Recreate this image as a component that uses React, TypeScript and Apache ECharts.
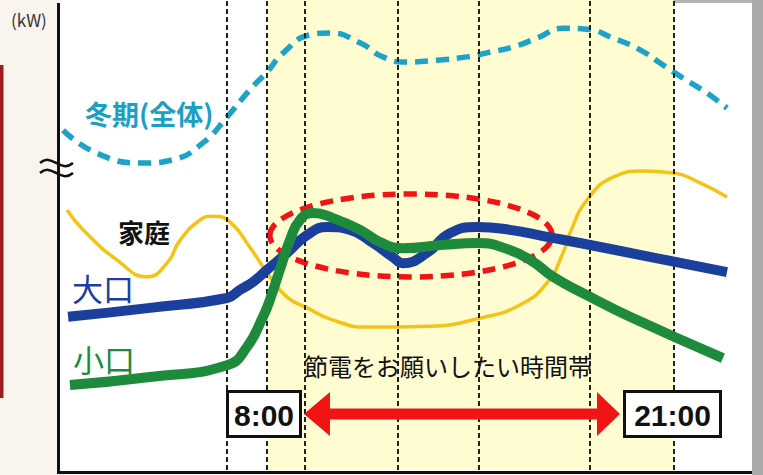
import React, { useEffect, useRef } from "react";
import * as echarts from "echarts";

// x: hour of day, y: relative load (arbitrary units, 0-100)
const winterTotal: [number, number][] = [
  [1.48, 72.3], [2.56, 67.4], [4.03, 65.3], [4.99, 66.0], [5.95, 69.6], [6.72, 75.1],
  [7.45, 80.9], [8.0, 84.7], [8.51, 88.7], [9.37, 92.6], [10.01, 93.0], [10.97, 90.9],
  [11.7, 87.9], [12.47, 86.8], [13.43, 87.2], [14.39, 87.9], [15.12, 88.9], [15.86, 90.0],
  [16.63, 91.9], [17.46, 94.0], [18.22, 93.8], [19.06, 91.9], [19.92, 89.4], [20.65, 86.2],
  [21.29, 83.4], [22.06, 80.2], [22.7, 77.0],
];
const household: [number, number][] = [
  [1.61, 55.3], [2.12, 51.1], [3.2, 44.7], [4.16, 41.1], [4.8, 44.0],
  [5.22, 48.9], [5.86, 53.2], [6.27, 54.0], [6.81, 52.8], [7.45, 47.4], [8.09, 41.1],
  [8.64, 36.8], [9.28, 34.5], [10.11, 31.9], [11.19, 30.4], [13.21, 30.6], [14.8, 32.3],
  [16.08, 35.1], [16.95, 39.8], [17.46, 46.2], [17.68, 50.4], [18.22, 57.4], [19.06, 62.3],
  [20.01, 63.6], [20.97, 63.2], [21.84, 61.1], [22.7, 58.1],
];
const largeUsers: [number, number][] = [
  [1.64, 32.6], [4.26, 34.5], [6.72, 36.6], [7.13, 38.3], [7.55, 40.0], [8.0, 42.6],
  [8.64, 46.2], [9.28, 50.0], [9.92, 51.7], [10.65, 51.1], [11.39, 48.3], [12.02, 45.3],
  [12.34, 44.0], [13.11, 46.2], [13.85, 50.4], [14.71, 51.7], [15.76, 51.1], [16.95, 49.6],
  [18.0, 48.3], [20.35, 45.2], [22.7, 42.1],
];
const smallUsers: [number, number][] = [
  [1.7, 18.1], [4.26, 19.8], [6.72, 22.3], [7.36, 26.2], [7.87, 32.6], [8.09, 36.2],
  [8.41, 42.6], [8.73, 48.9], [9.05, 53.2], [9.47, 54.7], [10.11, 53.6], [10.97, 51.1],
  [11.61, 48.5], [12.34, 47.2], [13.62, 47.9], [14.71, 48.3], [15.76, 46.8], [16.5, 44.3],
  [17.14, 41.1], [18.22, 37.2], [19.6, 32.6], [22.57, 23.8],
];
const dividerHours = [6.72, 8.0, 9.21, 12.18, 14.77, 18.32, 21.0];
const savingBand = [8, 21];
const bandLabels = ["8:00", "21:00"];
const focusCenter = [12.6, 49.9];
const focusRadius = [4.51, 8.83];

const FONT = "Noto Sans CJK JP";

export default function App() {
  const ref = useRef<HTMLDivElement>(null);
  useEffect(() => {
    const chart = echarts.init(ref.current as HTMLDivElement, null, {
      renderer: "svg",
      width: 763,
      height: 475,
    });
    const line = (name: string, data: [number, number][], color: string, width: number, z: number, dash?: number[]) => ({
      type: "line",
      name,
      data,
      smooth: 0.5,
      symbol: "none",
      silent: true,
      z,
      lineStyle: { color, width, type: dash ? dash : "solid", cap: "butt", join: "round" },
    });
    chart.setOption({
      animation: false,
      backgroundColor: "#faf4ee",
      textStyle: { fontFamily: FONT },
      grid: { left: 59, right: 11, top: 0, bottom: 5 },
      xAxis: { type: "value", min: 1.35, max: 23.5, show: false },
      yAxis: { type: "value", min: 0, max: 100, show: false },
      series: [
        {
          type: "line",
          data: [],
          z: 1,
          silent: true,
          markArea: {
            silent: true,
            itemStyle: { color: "#fffcd2" },
            data: [[{ xAxis: savingBand[0] }, { xAxis: savingBand[1] }]],
          },
        },
        {
          ...line("家庭", household, "#f4c316", 3.5, 2),
          markLine: {
            silent: true,
            symbol: ["none", "none"],
            label: { show: false },
            lineStyle: { type: [5, 3], color: "#222", width: 2 },
            data: dividerHours.map((h) => ({ xAxis: h })),
          },
        },
        line("冬期(全体)", winterTotal, "#1ea2c6", 5.5, 3, [13, 8]),
        line("大口", largeUsers, "#1b3f9c", 10, 5),
        line("小口", smallUsers, "#1e8a3c", 10, 6),
      ],
    });

    const c = chart.convertToPixel({ gridIndex: 0 }, focusCenter) as number[];
    const e = chart.convertToPixel({ gridIndex: 0 }, [
      focusCenter[0] + focusRadius[0],
      focusCenter[1] + focusRadius[1],
    ]) as number[];

    const txt = (text: string, x: number, y: number, fontSize: number, fill: string, fontWeight = "normal", fontFamily = FONT, align = "left") => ({
      type: "text",
      x,
      y,
      z: 100,
      silent: true,
      style: { text, fontSize, fill, fontWeight, fontFamily, align, verticalAlign: "middle" },
    });

    chart.setOption({
      graphic: [
        { type: "rect", z: 0, silent: true, shape: { x: 59, y: 0, width: 693, height: 472 }, style: { fill: "#ffffff" } },
        { type: "rect", z: 0, silent: true, shape: { x: 363, y: 0, width: 400, height: 3 }, style: { fill: "#b3b3b3" } },
        { type: "rect", z: 0, silent: true, shape: { x: 752, y: 0, width: 11, height: 475 }, style: { fill: "#a9a9a9" } },
        { type: "rect", z: 0, silent: true, shape: { x: 0, y: 65, width: 3.5, height: 333 }, style: { fill: "#9e1c1c" } },
        {
          type: "ellipse",
          z: 4,
          silent: true,
          shape: { cx: c[0], cy: c[1], rx: e[0] - c[0], ry: c[1] - e[1] },
          style: { fill: "transparent", stroke: "#f01414", lineWidth: 5.5, lineDash: [13, 8] },
        },
        { type: "line", z: 100, silent: true, shape: { x1: 58.5, y1: 3, x2: 58.5, y2: 474 }, style: { stroke: "#111", lineWidth: 3 } },
        { type: "line", z: 100, silent: true, shape: { x1: 57, y1: 472.5, x2: 752, y2: 472.5 }, style: { stroke: "#111", lineWidth: 3 } },
        {
          type: "bezierCurve", z: 101, silent: true,
          shape: { x1: 40, y1: 163, cpx1: 52, cpy1: 152, cpx2: 60, cpy2: 174, x2: 73, y2: 163 },
          style: { stroke: "#111", lineWidth: 2.5, fill: "none" },
        },
        {
          type: "bezierCurve", z: 101, silent: true,
          shape: { x1: 40, y1: 173, cpx1: 52, cpy1: 162, cpx2: 60, cpy2: 184, x2: 73, y2: 173 },
          style: { stroke: "#111", lineWidth: 2.5, fill: "none" },
        },
        {
          type: "polygon",
          z: 100,
          silent: true,
          shape: {
            points: [
              [304, 414], [330, 392], [330, 408.5], [597, 408.5], [597, 392], [620, 414],
              [597, 436], [597, 419.5], [330, 419.5], [330, 436],
            ],
          },
          style: { fill: "#f01414" },
        },
        { type: "rect", z: 100, silent: true, shape: { x: 227.5, y: 391.5, width: 73, height: 45 }, style: { fill: "#fff", stroke: "#111", lineWidth: 3 } },
        { type: "rect", z: 100, silent: true, shape: { x: 624.5, y: 391.5, width: 96, height: 45 }, style: { fill: "#fff", stroke: "#111", lineWidth: 3 } },
        txt(bandLabels[0], 264, 415, 30, "#111", "bold", "Liberation Sans", "center"),
        txt(bandLabels[1], 672.5, 415, 30, "#111", "bold", "Liberation Sans", "center"),
        txt("(kW)", 11, 19.5, 17, "#333"),
        txt("冬期(全体)", 85, 113, 27, "#1b9fc4", "bold"),
        txt("家庭", 118, 231, 26, "#111", "bold"),
        txt("大口", 72, 287, 31, "#1b3f9c"),
        txt("小口", 73, 358, 31, "#1e8a3c"),
        txt("節電をお願いしたい時間帯", 304, 365, 24, "#111"),
      ],
    });

    return () => chart.dispose();
  }, []);

  return <div ref={ref} style={{ position: "fixed", left: 0, top: 0, width: 763, height: 475 }} />;
}
